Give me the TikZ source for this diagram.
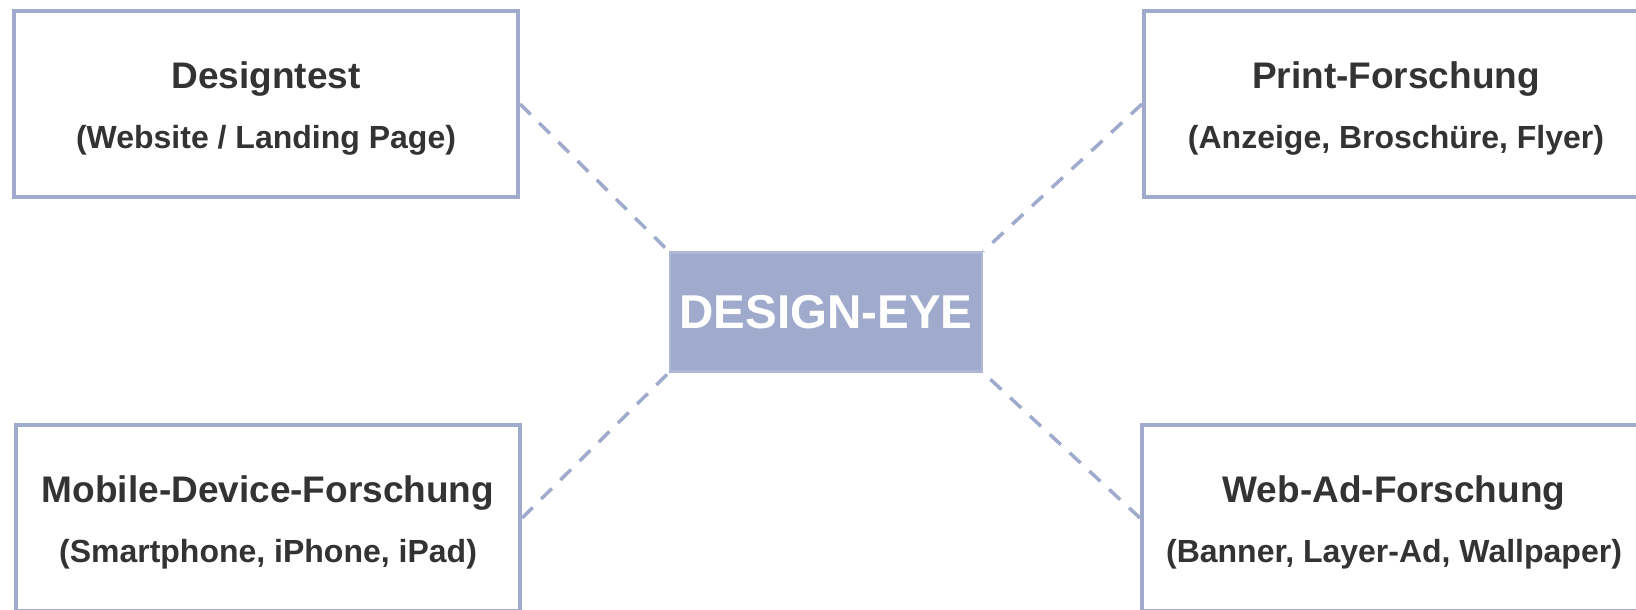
\documentclass[tikz,border=0pt]{standalone}
\usepackage{fontspec}
\setmainfont{Liberation Sans}
\usepackage{tikz}
\definecolor{eyeblue}{HTML}{A0AACC}
\definecolor{eyetext}{HTML}{333333}
\newcommand{\eyetitle}{\fontsize{37}{60}\selectfont\rule{0pt}{35pt}}
\tikzset{
  eyebox/.style={rectangle,draw=eyeblue,line width=4pt,fill=white,
    minimum width=504pt,minimum height=186pt,align=center,
    text=eyetext,font=\bfseries\fontsize{32}{60}\selectfont},
  eyecentre/.style={rectangle,draw=eyeblue!85!white,fill=eyeblue,line width=2.5pt,
    minimum width=312pt,minimum height=119pt,text=white,
    font=\bfseries\fontsize{47.5}{57}\selectfont},
  eyelink/.style={draw=eyeblue,line width=3.5pt,dash pattern=on 15pt off 12pt}
}

\begin{document}
\begin{tikzpicture}[x=1pt,y=-1pt]
  \useasboundingbox (0,0) rectangle (1636,610);
  \node[eyecentre] (eye) at (826,312) {DESIGN-EYE};
  \node[eyebox] (designtest) at (266,104)
    {{\eyetitle Designtest}\\(Website / Landing Page)};
  \node[eyebox] (print) at (1396,104)
    {{\eyetitle Print-Forschung}\\(Anzeige, Broschüre, Flyer)};
  \node[eyebox] (mobile) at (268,518)
    {{\eyetitle Mobile-Device-Forschung}\\(Smartphone, iPhone, iPad)};
  \node[eyebox] (webad) at (1394,518)
    {{\eyetitle Web-Ad-Forschung}\\(Banner, Layer-Ad, Wallpaper)};
  % dashed spokes from the centre box corners
  \draw[eyelink] (designtest.east) -- (eye.north west);
  \draw[eyelink] (print.west) -- (eye.north east);
  \draw[eyelink] (mobile.east) -- (eye.south west);
  \draw[eyelink] (webad.west) -- (eye.south east);
\end{tikzpicture}
\end{document}
